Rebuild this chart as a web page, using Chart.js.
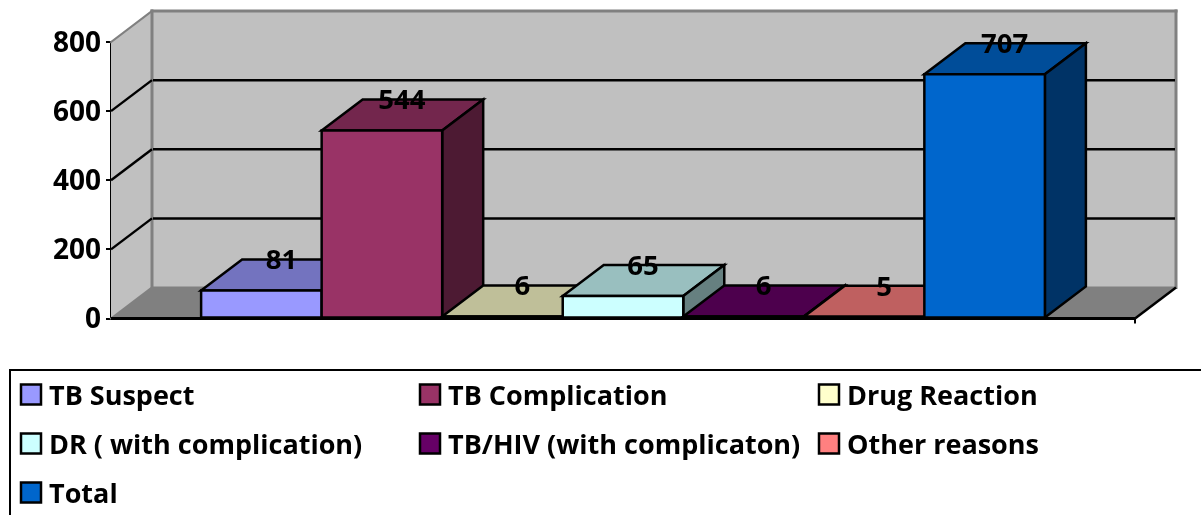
<!DOCTYPE html>
<html>
<head>
<meta charset="utf-8">
<style>html,body{margin:0;padding:0;background:#fff;overflow:hidden}canvas{display:block}</style>
<script src="https://cdn.jsdelivr.net/npm/chart.js@4/dist/chart.umd.min.js"></script>
</head>
<body>
<canvas id="c" width="1201" height="515"></canvas>
<script>
const categories = [''];
const seriesNames = ['TB Suspect','TB Complication','Drug Reaction','DR ( with complication)','TB/HIV (with complicaton)','Other reasons','Total'];
const seriesValues = [81,544,6,65,6,5,707];
const seriesColors = ['#9999FF','#993366','#FFFFCC','#CCFFFF','#660066','#FF8080','#0066CC'];
const yMax = 800, yStep = 200;
const DX = 41, DY = -31;
const FAMILY = '"Open Sans", Lato, sans-serif';
const FONT = 'bold 27.5px ' + FAMILY;
const LEGEND_FONT = 'bold 27px ' + FAMILY;

function shade(hex, f){
  const n = parseInt(hex.slice(1),16);
  return 'rgb('+[(n>>16)&255,(n>>8)&255,n&255].map(v=>Math.round(v*f)).join(',')+')';
}
function poly(ctx, pts, fill, stroke, lw){
  ctx.beginPath();
  pts.forEach((p,i)=> i?ctx.lineTo(p[0],p[1]):ctx.moveTo(p[0],p[1]));
  ctx.closePath();
  if(fill){ctx.fillStyle=fill;ctx.fill();}
  if(stroke){ctx.strokeStyle=stroke;ctx.lineWidth=lw;ctx.lineJoin='miter';ctx.stroke();}
}
function line(ctx,x1,y1,x2,y2,c,lw){
  ctx.beginPath();ctx.moveTo(x1,y1);ctx.lineTo(x2,y2);ctx.strokeStyle=c;ctx.lineWidth=lw;ctx.stroke();
}
const box3d = {
  id:'box3d',
  beforeDatasetsDraw(chart){
    const ctx=chart.ctx, a=chart.chartArea, y=chart.scales.y;
    const L=a.left,R=a.right,T=a.top,B=a.bottom;
    ctx.save();
    poly(ctx,[[L+DX,T+DY],[R+DX,T+DY],[R+DX,B+DY],[L+DX,B+DY]],'#C0C0C0');
    poly(ctx,[[L,T],[L+DX,T+DY],[L+DX,B+DY],[L,B]],'#C0C0C0');
    poly(ctx,[[L,B],[L+DX,B+DY],[R+DX,B+DY],[R,B]],'#808080');
    ctx.lineCap='square';
    line(ctx,L+DX,T+DY,R+DX,T+DY,'#808080',3);
    line(ctx,R+DX,T+DY,R+DX,B+DY,'#808080',3);
    line(ctx,L+DX,T+DY,L+DX,B+DY,'#808080',3);
    line(ctx,L,T,L+DX,T+DY,'#808080',2);
    line(ctx,L+DX,B+DY,R+DX,B+DY,'#808080',2);
    line(ctx,L,B,L+DX,B+DY,'#808080',2);
    ctx.lineCap='butt';
    y.ticks.forEach(t=>{
      if(t.value===0||t.value===yMax) return;
      const p=y.getPixelForValue(t.value);
      line(ctx,L,p,L+DX,p+DY,'#000',2.5);
      line(ctx,L+DX+1,p+DY,R+DX-1,p+DY,'#000',2.5);
    });
    line(ctx,R,B,R+DX,B+DY,'#000',2.5);
    line(ctx,L,B,R,B,'#000',3);
    line(ctx,R,B,R,B+5,'#000',2);
    chart.getSortedVisibleDatasetMetas().forEach(m=>{
      const el=m.data[0], c=seriesColors[m.index];
      const {x,y:top,base,width}=el.getProps(['x','y','base','width'],true);
      const l=x-width/2,r=x+width/2;
      poly(ctx,[[l,top],[r,top],[r+DX,top+DY],[l+DX,top+DY]],shade(c,.75),'#000',2.5);
      poly(ctx,[[r,top],[r+DX,top+DY],[r+DX,base+DY],[r,base]],shade(c,.5),'#000',2.5);
      el.draw(ctx);
      poly(ctx,[[l,top],[r,top],[r,base],[l,base]],null,'#000',2.5);
    });
    line(ctx,L,B,R,B,'#000',3);
    ctx.restore();
    return false;
  },
  afterDraw(chart){
    const ctx=chart.ctx;
    ctx.save();
    ctx.fillStyle='#000';ctx.font=FONT;ctx.textAlign='center';ctx.textBaseline='middle';
    chart.getSortedVisibleDatasetMetas().forEach(m=>{
      const el=m.data[0];
      const {x,y:top}=el.getProps(['x','y'],true);
      ctx.fillText(String(seriesValues[m.index]),x+DX/2-0.5,top+DY+2);
    });
    ctx.strokeStyle='#000';ctx.lineWidth=2;
    ctx.strokeRect(10,370,1220,170);
    ctx.textAlign='left';ctx.font=LEGEND_FONT;
    chart.data.datasets.forEach((d,i)=>{
      const col=i%3,row=Math.floor(i/3);
      const bx=21+col*399,by=384.5+row*49;
      ctx.fillStyle=d.backgroundColor;ctx.fillRect(bx,by,20,20);
      ctx.strokeStyle='#000';ctx.lineWidth=2.5;ctx.strokeRect(bx,by,20,20);
      ctx.fillStyle='#000';
      ctx.fillText(d.label,bx+28,by+13);
    });
    ctx.restore();
  }
};
new Chart(document.getElementById('c'),{
  type:'bar',
  data:{labels:categories,datasets:seriesNames.map((n,i)=>({label:n,data:[seriesValues[i]],backgroundColor:seriesColors[i],borderWidth:0,categoryPercentage:.824,barPercentage:1}))},
  options:{
    responsive:false,animation:false,devicePixelRatio:1,
    layout:{padding:{top:42,right:66,left:0,bottom:0}},
    plugins:{legend:{display:false},tooltip:{enabled:false},title:{display:false}},
    scales:{
      x:{grid:{display:false},border:{display:false},ticks:{display:false},afterFit(s){s.height=196.5;}},
      y:{min:0,max:yMax,
        ticks:{stepSize:yStep,color:'#000',font:{family:FAMILY,size:28,weight:'bold'},padding:5,labelOffset:2},
        grid:{drawOnChartArea:false,drawTicks:true,tickLength:5,color:'#000',lineWidth:2},
        border:{display:true,color:'#000',width:3},
        afterFit(s){s.width=111;}}
    }
  },
  plugins:[box3d]
});
</script>
</body>
</html>
